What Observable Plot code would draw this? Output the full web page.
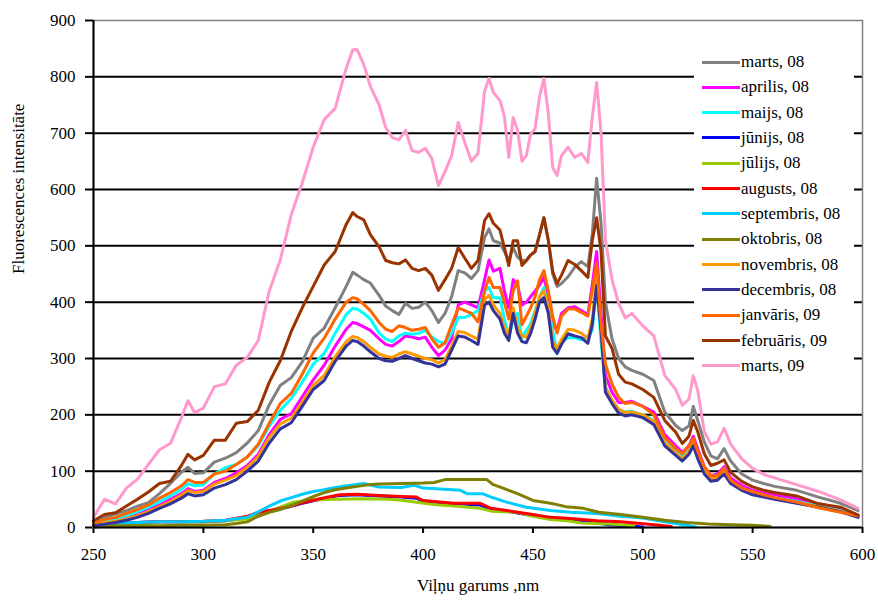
<!DOCTYPE html>
<html><head><meta charset="utf-8">
<script src="https://cdn.jsdelivr.net/npm/d3@7"></script>
<script src="https://cdn.jsdelivr.net/npm/@observablehq/plot@0.6"></script>
<style>
body{margin:0;background:#fff;}
#wrap{position:relative;width:878px;height:604px;font-family:"Liberation Serif","DejaVu Serif",serif;}
#legend{position:absolute;left:694px;top:48px;width:160px;height:328px;background:#fff;}
.item{position:absolute;left:8px;height:20px;display:flex;align-items:center;font-size:17px;color:#000;white-space:nowrap;}
.sw{width:38px;height:3px;margin-right:1px;}
</style></head><body><div id="wrap"></div>
<script>
// shared wavelength grid for the high-intensity series
const wlHigh = [250,255,260,265,270,275,280,285,290, 293,296,
 300,305,310,315,320,325,330,335,340,345,350,355,360,365,
 368,370,373,376, 380,383,386,389,392,395,398,
 401,404,407,410,413,416,419,422,425,428,
 430,432,435,437,439,441,443,445,447,449,
 451,453,455,457,459,461,463,
 466,469,472,475,477,479,481,483,486,489,492,495,
 500,505,510,515,518,521,523,525,528,531,534,537,540,545,
 550,555,560,570,580,590,598];

const marts08 = [10,18,24,30,38,44,60,78,98, 107,96,
 97,116,123,133,150,172,218,252,266,294,336,354,390,428,
 453,448,440,434, 412,393,385,378,398,389,391,
 400,385,364,380,410,456,452,442,456,515,
 530,509,505,490,474,497,480,474,474,484,
 490,520,550,510,450,428,433,
 445,462,472,463,520,620,540,400,335,300,285,279,
 272,261,205,181,172,180,215,190,152,127,122,140,118,95,
 84,78,73,66,54,43,30];

const aprilis08 = [5,10,14,18,24,32,40,50,60, 69,64,
 66,80,87,97,110,130,165,192,202,232,262,288,322,352,
 364,362,356,350, 335,325,322,330,340,338,335,
 338,320,305,315,335,395,400,395,390,440,
 475,455,460,420,390,440,430,395,400,410,
 420,430,445,410,360,350,380,
 390,392,385,378,430,490,380,270,240,222,222,224,
 215,205,165,145,133,145,162,140,108,92,95,108,88,75,
 66,61,58,51,42,34,22];

const maijs08 = [7,12,16,21,28,36,46,56,68, 78,74,
 76,95,106,112,125,145,180,208,229,258,290,309,345,378,
 389,388,380,370, 345,335,330,340,345,343,345,
 350,338,330,327,345,373,373,378,385,420,
 426,408,408,370,337,370,380,337,350,362,
 385,408,426,390,350,309,330,
 337,337,333,340,350,433,330,250,225,208,205,206,
 200,190,152,135,125,136,152,130,102,88,90,100,82,70,
 62,57,53,46,38,30,20];

const novembris08 = [5,8,11,15,21,28,37,46,57, 66,62,
 64,77,84,92,107,126,160,184,194,222,252,270,303,330,
 339,337,330,320, 308,304,302,308,312,308,304,
 300,298,292,298,322,348,346,340,334,405,
 412,395,380,355,340,390,355,340,338,355,
 380,410,420,390,330,318,334,
 352,350,345,336,370,440,355,248,226,210,204,205,
 200,188,150,132,122,134,150,127,99,86,88,98,80,68,
 60,56,52,45,37,29,19];

const decembris08 = [3,6,9,13,18,25,34,42,52, 60,56,
 58,70,76,85,100,118,150,175,186,215,245,261,295,322,
 332,330,322,312, 300,296,295,300,305,300,296,
 292,290,285,290,315,340,338,332,325,395,
 400,385,370,345,332,380,345,330,328,345,
 370,400,408,380,320,309,325,
 344,340,337,327,360,430,350,240,220,203,198,200,
 195,183,145,128,118,130,145,122,95,82,84,95,78,66,
 58,54,50,43,36,28,18];

const janvaris09 = [8,14,18,25,32,40,52,62,74, 85,80,
 80,95,100,112,125,148,185,220,238,272,310,336,370,400,
 408,406,396,385, 364,352,348,358,355,350,352,
 355,335,320,328,360,390,385,380,365,420,
 444,426,426,400,370,420,438,360,375,390,
 410,440,456,420,375,345,375,
 388,388,382,375,420,470,360,290,255,231,220,222,
 215,200,160,140,131,145,158,135,108,92,92,105,84,70,
 64,58,53,45,35,27,21];

const februaris09 = [12,23,26,38,50,63,78,82,110, 130,120,
 128,155,155,185,188,208,258,296,348,390,428,466,490,538,
 559,552,546,520, 498,474,470,468,475,460,456,
 460,448,421,440,460,497,478,460,474,545,
 557,540,528,497,465,509,509,465,474,484,
 490,520,550,510,455,433,448,
 474,467,456,444,509,550,490,340,318,272,258,255,
 245,231,190,169,149,162,190,170,131,110,114,120,98,82,
 72,66,62,56,42,36,22];

const marts09 = [18,50,42,70,86,112,138,149,195, 225,204,
 212,250,255,288,302,332,420,475,555,612,675,724,744,815,
 848,848,822,783, 750,710,692,688,705,669,666,
 673,655,607,632,660,719,683,650,664,775,
 797,772,758,730,657,728,705,650,660,699,
 708,765,797,735,639,625,660,
 675,657,664,648,728,790,700,510,440,398,372,380,
 358,340,270,245,217,228,270,243,170,148,152,176,148,122,
 105,94,88,76,64,49,34];

// low-intensity series, each with its own wavelengths
const junijsWl = [250,260,270,280,290,300,310,320,325,330,338,345,353,362,370,380,390,397,400,414,426,431,440,450,458,467,479,485,492,500];
const junijs08 = [1,5,9,10,10,10,12,18,25,30,36,43,50,57,58,56,54,52,47,42,40,33,28,21,16,14,8,5,3,1];
const julijsWl = [250,260,270,280,290,300,310,320,325,330,335,341,350,360,373,385,391,397,405,414,426,431,443,450,458,466,472,485,496];
const julijs08 = [1,3,5,10,10,10,12,15,22,29,36,45,49,50,51,50,48,45,41,38,34,29,27,20,14,12,8,6,3];
const augustsWl = [250,255,260,270,280,290,300,310,320,325,330,338,345,353,362,370,380,390,397,400,414,426,431,440,450,458,467,479,490,499,505,513];
const augusts08 = [2,4,6,9,10,10,11,13,20,27,30,36,44,51,58,59,57,55,54,48,43,43,34,29,23,18,16,12,10,7,5,2];
const septembrisWl = [250,260,270,280,290,300,310,320,325,330,335,340,345,350,355,360,367,373,380,390,396,400,410,417,420,427,431,438,447,458,467,479,490,500,510,520,524];
const septembris08 = [3,7,9,10,10,11,13,18,28,38,47,53,59,64,67,71,75,78,72,71,75,70,68,66,60,60,54,45,36,30,27,25,20,17,10,4,1];
const oktobrisWl = [250,260,270,280,290,300,310,315,320,325,330,335,340,345,350,355,360,365,370,375,380,390,400,405,410,420,429,432,437,443,450,458,465,473,480,490,500,510,520,530,540,550,558];
const oktobris08 = [2,3,3,3,4,4,5,7,10,20,27,32,39,47,55,62,67,70,73,76,77,78,79,80,85,85,85,76,69,60,48,43,37,34,27,23,18,13,9,6,5,4,2];

const names = ["marts, 08","aprilis, 08","maijs, 08","jūnijs, 08","jūlijs, 08","augusts, 08","septembris, 08","oktobris, 08","novembris, 08","decembris, 08","janvāris, 09","februāris, 09","marts, 09"];
const colors = ["#808080","#FF00FF","#00FFFF","#0000FF","#99CC00","#FF0000","#00CCFF","#808000","#FF9900","#333399","#FF6600","#993300","#FF99CC"];
const wls = [wlHigh,wlHigh,wlHigh,junijsWl,julijsWl,augustsWl,septembrisWl,oktobrisWl,wlHigh,wlHigh,wlHigh,wlHigh,wlHigh];
const vals = [marts08,aprilis08,maijs08,junijs08,julijs08,augusts08,septembris08,oktobris08,novembris08,decembris08,janvaris09,februaris09,marts09];

const xTicks = [250,300,350,400,450,500,550,600];
const yTicks = [0,100,200,300,400,500,600,700,800,900];
const gridValues = [100,200,300,400,500,600,700,800];
const xTitle = "Viļņu garums ,nm";
const yTitle = "Fluorescences intensitāte";

const rows = names.map((n,k) => wls[k].map((w,i) => ({name:n, wl:w, v:vals[k][i]})));

const plot = Plot.plot({
  width: 878, height: 604,
  marginLeft: 93, marginRight: 16, marginTop: 20, marginBottom: 77,
  style: {fontFamily: "'Liberation Serif', 'DejaVu Serif', serif", fontSize: "17px", color: "#000", background: "#fff"},
  x: {domain: [250, 600]},
  y: {domain: [0, 900]},
  marks: [
    Plot.ruleY(gridValues, {stroke: "#000", strokeWidth: 2}),
    Plot.frame({stroke: "#808080", strokeWidth: 1.5}),
    Plot.axisY(yTicks, {tickSize: 8, tickPadding: 10, label: null, strokeWidth: 2, fill: "#000", fontSize: 17}),
    Plot.axisX(xTicks, {tickSize: 6, tickPadding: 14, label: null, strokeWidth: 2, fill: "#000", fontSize: 17}),
    ...rows.map((r,k) => Plot.line(r, {x: "wl", y: "v", stroke: colors[k], strokeWidth: 3})),
    Plot.ruleY([0], {stroke: "#000", strokeWidth: 2}),
    Plot.ruleX([250], {stroke: "#000", strokeWidth: 2}),
    Plot.text([yTitle], {frameAnchor: "left", dx: -75, rotate: -90, text: d => d, fontSize: 17, fill: "#000"}),
    Plot.text([xTitle], {frameAnchor: "bottom", dy: 63, text: d => d, fontSize: 17, fill: "#000"})
  ]
});

const wrap = document.getElementById("wrap");
wrap.appendChild(plot);
const legend = document.createElement("div");
legend.id = "legend";
names.forEach((n,i) => {
  const it = document.createElement("div");
  it.className = "item";
  it.style.top = (4 + i*25.33) + "px";
  const sw = document.createElement("span");
  sw.className = "sw";
  sw.style.background = colors[i];
  const tx = document.createElement("span");
  tx.textContent = n;
  it.appendChild(sw); it.appendChild(tx);
  legend.appendChild(it);
});
wrap.appendChild(legend);
</script></body></html>
